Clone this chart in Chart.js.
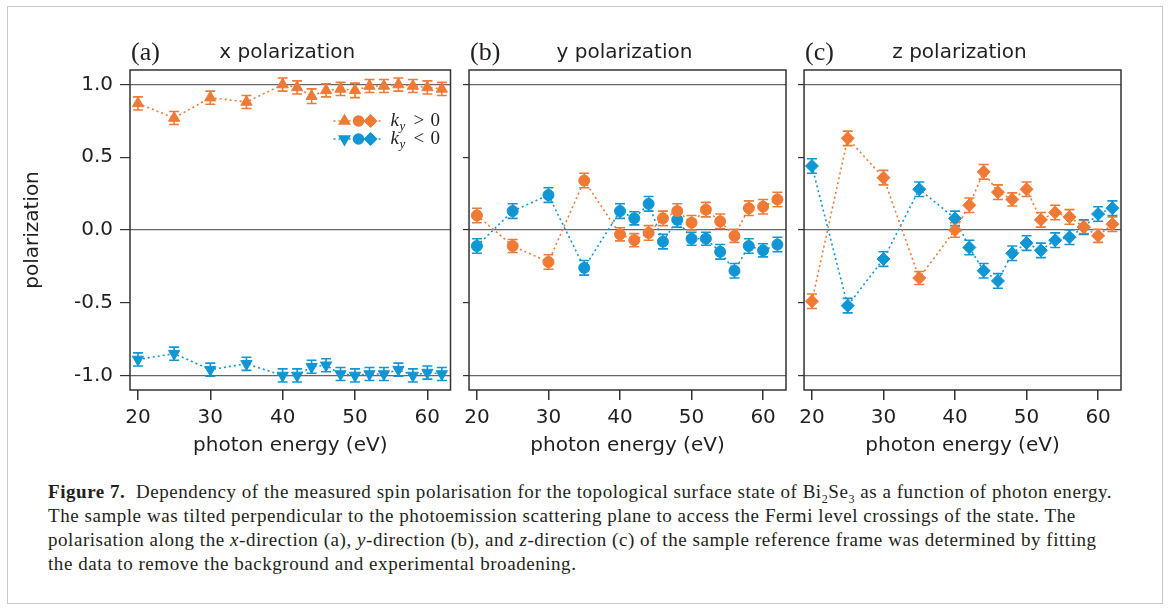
<!DOCTYPE html>
<html lang="en">
<head>
<meta charset="UTF-8">
<title>Figure 7 | spin polarisation</title>
<script src="https://cdn.jsdelivr.net/npm/chart.js"></script>
<style>
  body { margin: 0; background: #fff; }
  #moldura { position: absolute; left: 7px; top: 6px; width: 1156px; height: 598px; border: 1.5px solid #c9c9c9; box-sizing: border-box; }
  .painel { position: absolute; top: 0; }
  #legenda_fig { position: absolute; left: 48px; top: 480px; font-family: "Liberation Serif", serif; font-size: 19px; letter-spacing: 0.55px; line-height: 24px; color: #231f20; white-space: nowrap; }
  #legenda_fig sub { font-size: 12px; line-height: 0; }
</style>
</head>
<body>
  <div id="moldura"></div>
  <canvas id="graficoA" class="painel" style="left:0px" width="458" height="470"></canvas>
  <canvas id="graficoB" class="painel" style="left:458px" width="335" height="470"></canvas>
  <canvas id="graficoC" class="painel" style="left:793px" width="375" height="470"></canvas>
  <div id="legenda_fig">
    <b>Figure 7.</b>&nbsp; Dependency of the measured spin polarisation for the topological surface state of Bi<sub>2</sub>Se<sub>3</sub> as a function of photon energy.<br>
    The sample was tilted perpendicular to the photoemission scattering plane to access the Fermi level crossings of the state. The<br>
    polarisation along the <i>x</i>-direction (a), <i>y</i>-direction (b), and <i>z</i>-direction (c) of the sample reference frame was determined by fitting<br>
    the data to remove the background and experimental broadening.
  </div>

<script>
// photon energy (eV)
const energia = [20, 25, 30, 35, 40, 42, 44, 46, 48, 50, 52, 54, 56, 58, 60, 62];
const ticksX = [20, 30, 40, 50, 60];
const ticksY = [-1, -0.5, 0, 0.5, 1];

// (a) x polarization
const xPositivo = [0.87, 0.77, 0.91, 0.88, 1.00, 0.98, 0.92, 0.96, 0.97, 0.96, 0.99, 0.99, 1.00, 0.99, 0.98, 0.97];
const xNegativo = [-0.89, -0.85, -0.96, -0.92, -1.00, -1.00, -0.94, -0.93, -0.99, -1.00, -0.99, -0.99, -0.96, -1.00, -0.98, -0.99];
const xErroPos = [0.045, 0.045, 0.045, 0.045, 0.045, 0.045, 0.05, 0.045, 0.045, 0.05, 0.045, 0.045, 0.045, 0.045, 0.045, 0.045];
const xErroNeg = [0.045, 0.045, 0.045, 0.045, 0.045, 0.045, 0.045, 0.045, 0.045, 0.045, 0.045, 0.045, 0.045, 0.045, 0.045, 0.045];

// (b) y polarization
const yPositivo = [0.10, -0.11, -0.22, 0.34, -0.03, -0.07, -0.02, 0.08, 0.13, 0.05, 0.14, 0.06, -0.04, 0.15, 0.16, 0.21];
const yNegativo = [-0.11, 0.13, 0.24, -0.26, 0.13, 0.08, 0.18, -0.08, 0.07, -0.06, -0.06, -0.15, -0.28, -0.11, -0.14, -0.10];
const yErroPos = [0.05, 0.045, 0.05, 0.05, 0.045, 0.045, 0.05, 0.05, 0.05, 0.05, 0.05, 0.05, 0.045, 0.05, 0.05, 0.05];
const yErroNeg = [0.05, 0.05, 0.05, 0.05, 0.05, 0.045, 0.05, 0.05, 0.05, 0.045, 0.045, 0.05, 0.05, 0.05, 0.045, 0.05];

// (c) z polarization
const zPositivo = [-0.49, 0.63, 0.36, -0.33, 0.00, 0.17, 0.40, 0.26, 0.21, 0.28, 0.07, 0.12, 0.09, 0.02, -0.04, 0.04];
const zNegativo = [0.44, -0.52, -0.20, 0.28, 0.08, -0.12, -0.28, -0.35, -0.16, -0.09, -0.14, -0.07, -0.05, 0.02, 0.11, 0.15];
const zErroPos = [0.05, 0.05, 0.05, 0.045, 0.05, 0.05, 0.05, 0.05, 0.045, 0.05, 0.05, 0.05, 0.05, 0.045, 0.045, 0.05];
const zErroNeg = [0.05, 0.05, 0.05, 0.05, 0.05, 0.05, 0.05, 0.05, 0.05, 0.05, 0.05, 0.05, 0.05, 0.05, 0.05, 0.05];

const laranja = '#ef7a35';
const azul = '#1096d4';
const fonteSans = '"DejaVu Sans", sans-serif';
const fonteSerif = '"Liberation Serif", serif';

// error bars under the markers
const barrasErro = {
  id: 'barrasErro',
  beforeDatasetsDraw(chart) {
    const ctx = chart.ctx;
    const escalaY = chart.scales.y;
    chart.data.datasets.forEach(function (ds, d) {
      const meta = chart.getDatasetMeta(d);
      ctx.save();
      ctx.strokeStyle = ds.borderColor;
      ctx.lineWidth = 1.6;
      meta.data.forEach(function (pt, i) {
        const v = ds.data[i].y;
        const topo = escalaY.getPixelForValue(v + ds.erros[i]);
        const base = escalaY.getPixelForValue(v - ds.erros[i]);
        ctx.beginPath();
        ctx.moveTo(pt.x, topo); ctx.lineTo(pt.x, base);
        ctx.moveTo(pt.x - 5, topo); ctx.lineTo(pt.x + 5, topo);
        ctx.moveTo(pt.x - 5, base); ctx.lineTo(pt.x + 5, base);
        ctx.stroke();
      });
      ctx.restore();
    });
  }
};

// box around the plot area + letter and title on top
const moldura = {
  id: 'moldura',
  afterDraw(chart, args, opts) {
    const ctx = chart.ctx;
    const a = chart.chartArea;
    ctx.save();
    ctx.strokeStyle = '#333';
    ctx.lineWidth = 1.5;
    ctx.strokeRect(a.left, a.top, a.right - a.left, a.bottom - a.top);
    ctx.fillStyle = '#231f20';
    ctx.textBaseline = 'middle';
    ctx.textAlign = 'left';
    ctx.font = '26px ' + fonteSerif;
    ctx.fillText(opts.letra, a.left + 1, 53);
    ctx.textAlign = 'center';
    ctx.font = '20px ' + fonteSans;
    ctx.fillText(opts.titulo, (a.left + a.right) / 2 - 3, 53);
    ctx.restore();
  }
};

// legend of panel (a)
const legenda = {
  id: 'legenda',
  afterDraw(chart) {
    const ctx = chart.ctx;
    const a = chart.chartArea;
    const linhas = [
      { cor: laranja, estilos: ['triangle', 'circle', 'rectRot'], rot: 0, sinal: '>', y: 121 },
      { cor: azul, estilos: ['triangle', 'circle', 'rectRot'], rot: 180, sinal: '<', y: 139 }
    ];
    const x0 = a.right - 117;
    ctx.save();
    linhas.forEach(function (l) {
      ctx.strokeStyle = l.cor;
      ctx.lineWidth = 1.5;
      ctx.setLineDash([2, 3]);
      ctx.beginPath();
      ctx.moveTo(x0, l.y); ctx.lineTo(x0 + 48, l.y);
      ctx.stroke();
      ctx.setLineDash([]);
      [11, 25, 37].forEach(function (dx, k) {
        ctx.fillStyle = l.cor;
        Chart.helpers.drawPoint(ctx, {
          pointStyle: l.estilos[k], radius: k === 1 ? 5 : 6,
          rotation: k === 0 ? l.rot : 0, borderWidth: 1
        }, x0 + dx, l.y);
        ctx.fill();
      });
      ctx.fillStyle = '#231f20';
      ctx.textBaseline = 'alphabetic';
      ctx.textAlign = 'left';
      ctx.font = 'italic 19px ' + fonteSerif;
      ctx.fillText('k', x0 + 57, l.y + 5);
      ctx.font = 'italic 13px ' + fonteSerif;
      ctx.fillText('y', x0 + 66, l.y + 9);
      ctx.font = '19px ' + fonteSerif;
      ctx.fillText(l.sinal, x0 + 80, l.y + 5);
      ctx.fillText('0', x0 + 97, l.y + 5);
    });
    ctx.restore();
  }
};

function serie(valores, erros, cor, estilo, rotacao, raio) {
  return {
    data: energia.map(function (e, i) { return { x: e, y: valores[i] }; }),
    erros: erros,
    borderColor: cor,
    backgroundColor: cor,
    pointBackgroundColor: cor,
    pointBorderColor: cor,
    pointBorderWidth: 1,
    pointStyle: estilo,
    pointRotation: rotacao,
    pointRadius: raio,
    borderWidth: 1.6,
    borderDash: [2, 3],
    tension: 0
  };
}

function painel(id, datasets, letra, titulo, cfg, extras) {
  return new Chart(document.getElementById(id), {
    type: 'line',
    data: { datasets: datasets },
    options: {
      responsive: false,
      animation: false,
      layout: { padding: { left: cfg.padEsq, right: cfg.padDir, top: 70, bottom: 0 } },
      scales: {
        x: {
          type: 'linear',
          min: 18.9,
          max: 63.2,
          afterBuildTicks: function (s) { s.ticks = ticksX.map(function (v) { return { value: v }; }); },
          afterFit: function (s) { s.height = 80; },
          border: { display: false },
          grid: { drawOnChartArea: false, tickLength: 10, tickColor: '#333', lineWidth: 1.5 },
          ticks: { color: '#231f20', padding: 6, maxRotation: 0, font: { family: fonteSans, size: 20 } },
          title: { display: true, text: 'photon energy (eV)', color: '#231f20', padding: { top: 0, bottom: 12 }, font: { family: fonteSans, size: 20 } }
        },
        y: {
          min: -1.1,
          max: 1.1,
          afterBuildTicks: function (s) { s.ticks = ticksY.map(function (v) { return { value: v }; }); },
          afterFit: function (s) { s.width = cfg.largY; },
          border: { display: false },
          grid: {
            color: function (c) { return Math.abs(c.tick.value) === 1 || c.tick.value === 0 ? '#666' : 'rgba(0,0,0,0)'; },
            tickColor: '#333',
            tickLength: cfg.tickY,
            lineWidth: 1.2
          },
          ticks: {
            display: cfg.rotulosY,
            color: '#231f20',
            padding: 7,
            font: { family: fonteSans, size: 20 },
            callback: function (v) { return v.toFixed(1); }
          },
          title: { display: cfg.rotulosY, text: 'polarization', color: '#231f20', padding: { top: 11, bottom: 0 }, font: { family: fonteSans, size: 20 } }
        }
      },
      plugins: {
        legend: { display: false },
        tooltip: { enabled: false },
        moldura: { letra: letra, titulo: titulo }
      }
    },
    plugins: [barrasErro, moldura].concat(extras)
  });
}

painel('graficoA', [
  serie(xPositivo, xErroPos, laranja, 'triangle', 0, 6.5),
  serie(xNegativo, xErroNeg, azul, 'triangle', 180, 6.5)
], '(a)', 'x polarization', { padEsq: 10, padDir: 7, largY: 120, tickY: 10, rotulosY: true }, [legenda]);

painel('graficoB', [
  serie(yPositivo, yErroPos, laranja, 'circle', 0, 5.5),
  serie(yNegativo, yErroNeg, azul, 'circle', 0, 5.5)
], '(b)', 'y polarization', { padEsq: 0, padDir: 7, largY: 7, tickY: 6, rotulosY: false }, []);

painel('graficoC', [
  serie(zPositivo, zErroPos, laranja, 'rectRot', 0, 6.5),
  serie(zNegativo, zErroNeg, azul, 'rectRot', 0, 6.5)
], '(c)', 'z polarization', { padEsq: 0, padDir: 47, largY: 8, tickY: 6, rotulosY: false }, []);
</script>
</body>
</html>
